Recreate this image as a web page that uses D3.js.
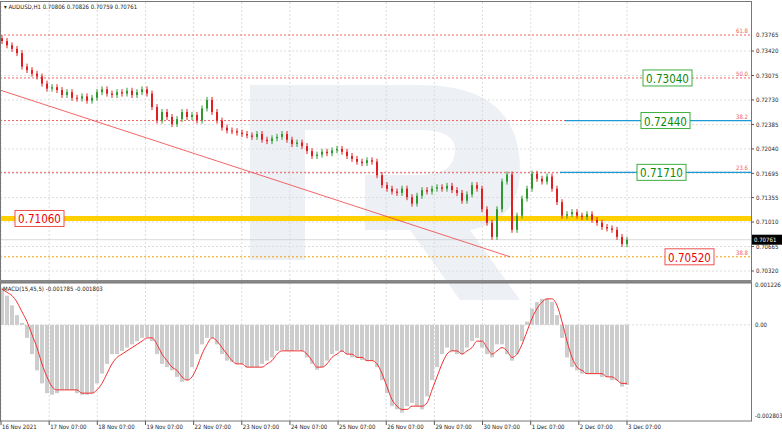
<!DOCTYPE html>
<html><head><meta charset="utf-8">
<script src="https://cdn.jsdelivr.net/npm/d3@7"></script>
<style>body{margin:0;background:#fff}text{font-family:"DejaVu Sans Condensed","Liberation Sans Narrow","Liberation Sans",sans-serif}</style>
</head><body><svg></svg>
<script>
const w = 782, h = 432
const svg = d3.select("svg").attr("width", w).attr("height", h)

// closes, roughly one every two hourly bars
const closes = [.7356,.7350,.7345,.7339,.7320,.7315,.7310,.7306,.7296,.7289,.7291,.7287,.7280,.7284,.7276,.7275,.7278,.7272,.7276,.7284,
.7288,.7282,.7280,.7284,.7282,.7286,.7280,.7284,.7288,.7282,.7263,.7244,.7256,.7249,.7239,.7246,.7256,.7249,.7252,.7244,
.7261,.7273,.7256,.7244,.7234,.7230,.7229,.7227,.7225,.7223,.7221,.7225,.7217,.7215,.7219,.7221,.7225,.7217,.7211,.7213,
.7208,.7201,.7194,.7196,.7200,.7198,.7202,.7204,.7200,.7194,.7190,.7186,.7184,.7188,.7186,.7167,.7153,.7148,.7144,.7142,
.7148,.7136,.7127,.7138,.7146,.7144,.7148,.7150,.7148,.7152,.7146,.7142,.7131,.7140,.7153,.7148,.7119,.7100,.7080,.7119,
.7158,.7168,.7090,.7110,.7134,.7148,.7169,.7162,.7158,.7165,.7148,.7129,.7110,.7112,.7115,.7110,.7108,.7112,.7104,.7100,
.7094,.7092,.7090,.7080,.7070,.7076]
const firstOpen = .7360

const macd = [.00114,.0009,.0006,.0003,.00006,-.0004,-.0009,-.0014,-.0018,-.0021,-.00215,-.0021,-.0020,-.0020,-.0020,-.0021,-.00215,-.00215,-.0021,-.0018,
-.0015,-.0012,-.0009,-.0009,-.0008,-.0007,-.0006,-.0005,-.0004,-.00037,-.0005,-.0009,-.0012,-.0013,-.0014,-.0016,-.00175,-.0017,-.0013,-.0009,
-.0006,-.0004,-.0004,-.0006,-.0009,-.0011,-.00114,-.0012,-.0012,-.0013,-.0013,-.0013,-.0012,-.0011,-.0010,-.0008,-.00077,-.0008,-.0008,-.00077,
-.0008,-.0010,-.0012,-.00138,-.0013,-.0011,-.0009,-.0008,-.00083,-.0009,-.0010,-.0010,-.00108,-.0011,-.0011,-.0013,-.0017,-.0021,-.0025,-.0026,
-.0027,-.0025,-.0024,-.0025,-.0026,-.0022,-.0017,-.0013,-.0009,-.0007,-.0008,-.0009,-.0009,-.0007,-.0005,-.0004,-.0007,-.0009,-.0010,-.0006,
-.0006,-.0009,-.0011,-.0009,-.0005,.0001,.0005,.0007,.0008,.0008,.0007,.0003,-.0004,-.0010,-.0013,-.0014,-.0015,-.0015,-.0015,-.0015,
-.0016,-.0016,-.0017,-.0017,-.0019,-.00185]
const signal = [.0011,.0010,.0009,.0007,.0004,.0001,-.0003,-.0007,-.0012,-.0016,-.0019,-.0020,-.0020,-.0020,-.0020,-.0020,-.0021,-.0021,-.0021,-.0020,
-.0018,-.0015,-.0012,-.0010,-.0009,-.0008,-.0007,-.0006,-.0005,-.0004,-.0004,-.0006,-.0009,-.0011,-.0013,-.0014,-.0016,-.0017,-.0016,-.0013,
-.0009,-.0006,-.0004,-.0005,-.0007,-.0009,-.0011,-.0012,-.0012,-.0013,-.0013,-.0013,-.0013,-.0012,-.0011,-.0009,-.0008,-.0008,-.0008,-.0008,
-.0008,-.0009,-.0011,-.0013,-.0013,-.0012,-.0010,-.0009,-.0008,-.0009,-.0009,-.0010,-.0010,-.0011,-.0011,-.0012,-.0015,-.0019,-.0023,-.0025,
-.0026,-.0026,-.0025,-.0025,-.0025,-.0024,-.0020,-.0016,-.0012,-.0009,-.0008,-.0008,-.0009,-.0008,-.0007,-.0005,-.0005,-.0007,-.0009,-.0008,
-.0007,-.0008,-.0010,-.0009,-.0006,-.0002,.0002,.0005,.0007,.0008,.0008,.0006,.0001,-.0005,-.0010,-.0013,-.0014,-.0015,-.0015,-.0015,
-.0015,-.0016,-.0016,-.0017,-.0018,-.0018]

const priceTicks = ["0.73420","0.73075","0.72730","0.72385","0.72040","0.71695","0.71355","0.71010","0.70665","0.70320"]
const topTick = "0.73765"
const dateLabels = ["16 Nov 2021","17 Nov 07:00","18 Nov 07:00","19 Nov 07:00","22 Nov 07:00","23 Nov 07:00","24 Nov 07:00",
  "25 Nov 07:00","26 Nov 07:00","29 Nov 07:00","30 Nov 07:00","1 Dec 07:00","2 Dec 07:00","3 Dec 07:00"]
const fibLevels = [{k:"61.8",p:.73645},{k:"50.0",p:.7304},{k:"38.2",p:.7244},{k:"23.6",p:.7171},{k:"38.8",p:.7052}]
const boxLabels = [{t:"0.73040",p:.7304,x:643,c:"green"},{t:"0.72440",p:.7244,x:641,c:"green"},{t:"0.71710",p:.7171,x:637,c:"green"},
  {t:"0.71060",p:.7106,x:15,c:"red"},{t:"0.70520",p:.7052,x:665,c:"red"}]
const lastPrice = 0.70761
const macdTicks = [0.001226, 0, -0.002803]

const right = 751
const x = d3.scaleLinear().domain([0, closes.length - 1]).range([2, 627])
const xDay = d3.scaleLinear().domain([0, 13]).range([1, 627])
const y = d3.scaleLinear().domain([0.7032, 0.7342]).range([271, 51])
const ym = d3.scaleLinear().domain([-0.002803, 0.001226]).range([416, 285])

// watermark
const wm = svg.append("g").attr("fill", "#edf1f6")
wm.append("rect").attr("x", 250).attr("y", 85).attr("width", 55).attr("height", 175)
wm.append("path").attr("d", "M305,85 H420 Q520,85 520,170 Q520,220 470,230 L520,300 H460 L410,230 H365 V175 H420 Q455,175 455,150 Q455,130 420,130 H305 Z")

// grid
const grid = svg.append("g").attr("stroke", "#dcdcdc").attr("stroke-dasharray", "2,2")
dateLabels.forEach((d, i) => {
  grid.append("line").attr("x1", xDay(i)).attr("x2", xDay(i)).attr("y1", 2).attr("y2", 280)
  grid.append("line").attr("x1", xDay(i)).attr("x2", xDay(i)).attr("y1", 283).attr("y2", 421)
})
priceTicks.forEach(t => grid.append("line").attr("x1", 0).attr("x2", right).attr("y1", y(+t)).attr("y2", y(+t)))
grid.append("line").attr("x1", 0).attr("x2", right).attr("y1", ym(0)).attr("y2", ym(0))

// fib lines
fibLevels.forEach(f => {
  svg.append("line").attr("x1", 0).attr("x2", right).attr("y1", y(f.p)).attr("y2", y(f.p))
    .attr("stroke", f.k === "38.8" ? "#f0a000" : "#f06060").attr("stroke-dasharray", "2,2")
  svg.append("text").attr("x", right - 3).attr("y", y(f.p) - 2).attr("text-anchor", "end")
    .attr("font-size", 6).attr("fill", "#f06060").text(f.k)
})
;[{p:.7244,x0:565},{p:.7171,x0:560}].forEach(l =>
  svg.append("line").attr("x1", l.x0).attr("x2", right).attr("y1", y(l.p)).attr("y2", y(l.p))
    .attr("stroke", "#1a9ad6").attr("stroke-width", 1.3))
svg.append("line").attr("x1", 0).attr("x2", right).attr("y1", y(.7106)).attr("y2", y(.7106))
  .attr("stroke", "#ffd000").attr("stroke-width", 5)
svg.append("line").attr("x1", 0).attr("x2", right).attr("y1", y(lastPrice)).attr("y2", y(lastPrice))
  .attr("stroke", "#c8c8c8").attr("stroke-width", 0.7)

// trendline
svg.append("line").attr("x1", 0).attr("y1", y(.7287)).attr("x2", 510).attr("y2", y(.7052))
  .attr("stroke", "#f04040").attr("stroke-width", 0.8)

// candles
const candles = closes.map((c, i) => ({o: i ? closes[i - 1] : firstOpen, c, i}))
const cg = svg.append("g")
cg.selectAll("line").data(candles).join("line")
  .attr("x1", d => x(d.i)).attr("x2", d => x(d.i))
  .attr("y1", d => y(Math.max(d.o, d.c)) - 3).attr("y2", d => y(Math.min(d.o, d.c)) + 3)
  .attr("stroke", d => d.c >= d.o ? "#2e9a2e" : "#e02020")
cg.selectAll("rect").data(candles).join("rect")
  .attr("x", d => x(d.i) - 1).attr("width", 2)
  .attr("y", d => y(Math.max(d.o, d.c))).attr("height", d => Math.max(1, Math.abs(y(d.o) - y(d.c))))
  .attr("fill", d => d.c >= d.o ? "#2e9a2e" : "#e02020")

// box labels
boxLabels.forEach(b => {
  const g = svg.append("g")
  g.append("rect").attr("x", b.x).attr("y", y(b.p) - 8).attr("width", 49).attr("height", 16)
    .attr("fill", "#fff").attr("stroke", b.c === "green" ? "#3cae3c" : "#f05050")
  g.append("text").attr("x", b.x + 24.5).attr("y", y(b.p) + 5).attr("text-anchor", "middle")
    .attr("font-family", "DejaVu Sans").attr("font-size", 11.5)
    .attr("fill", b.c === "green" ? "#0a8a0a" : "#f00000").text(b.t)
})

// MACD
const mg = svg.append("g")
mg.selectAll("rect").data(macd).join("rect")
  .attr("x", (d, i) => x(i) - 2).attr("width", 4)
  .attr("y", d => Math.min(ym(d), ym(0))).attr("height", d => Math.abs(ym(d) - ym(0)))
  .attr("fill", "#cdcdcd")
mg.append("path").datum(signal)
  .attr("d", d3.line().x((d, i) => x(i)).y(d => ym(d)).curve(d3.curveMonotoneX))
  .attr("fill", "none").attr("stroke", "#f03030").attr("stroke-width", 1)

// frames
svg.append("rect").attr("x", 0.5).attr("y", 1.5).attr("width", right).attr("height", 279).attr("fill", "none").attr("stroke", "#777")
svg.append("rect").attr("x", 0).attr("y", 280).attr("width", right + 1).attr("height", 3).attr("fill", "#888")
svg.append("rect").attr("x", 0.5).attr("y", 283).attr("width", right).attr("height", 138).attr("fill", "none").attr("stroke", "#777")

// axes
const ax = svg.append("g").attr("font-size", 6).attr("fill", "#222")
priceTicks.forEach(t => {
  ax.append("line").attr("x1", right).attr("x2", right + 3).attr("y1", y(+t)).attr("y2", y(+t)).attr("stroke", "#555")
  ax.append("text").attr("x", right + 5).attr("y", y(+t) + 2.2).text(t)
})
ax.append("text").attr("x", right + 5).attr("y", 36.5).text(topTick)
ax.append("rect").attr("x", right + 1).attr("y", y(lastPrice) - 5).attr("width", 30).attr("height", 10).attr("fill", "#000")
ax.append("text").attr("x", right + 3).attr("y", y(lastPrice) + 2.2).attr("fill", "#fff").text(lastPrice.toFixed(5))
macdTicks.forEach(v => {
  ax.append("text").attr("x", right + 4).attr("y", ym(v) + 2.2).text(v === 0 ? "0.00" : v.toFixed(6))
})
dateLabels.forEach((d, i) => {
  ax.append("line").attr("x1", xDay(i)).attr("x2", xDay(i)).attr("y1", 421).attr("y2", 425).attr("stroke", "#555")
  ax.append("text").attr("x", xDay(i) + 1).attr("y", 429).text(d)
})
ax.append("text").attr("x", 4).attr("y", 9).text("▾ AUDUSD,H1  0.70806 0.70826 0.70759 0.70761")
ax.append("text").attr("x", 3).attr("y", 291).text("MACD(15,45,5) -0.001785 -0.001803")
</script></body></html>
